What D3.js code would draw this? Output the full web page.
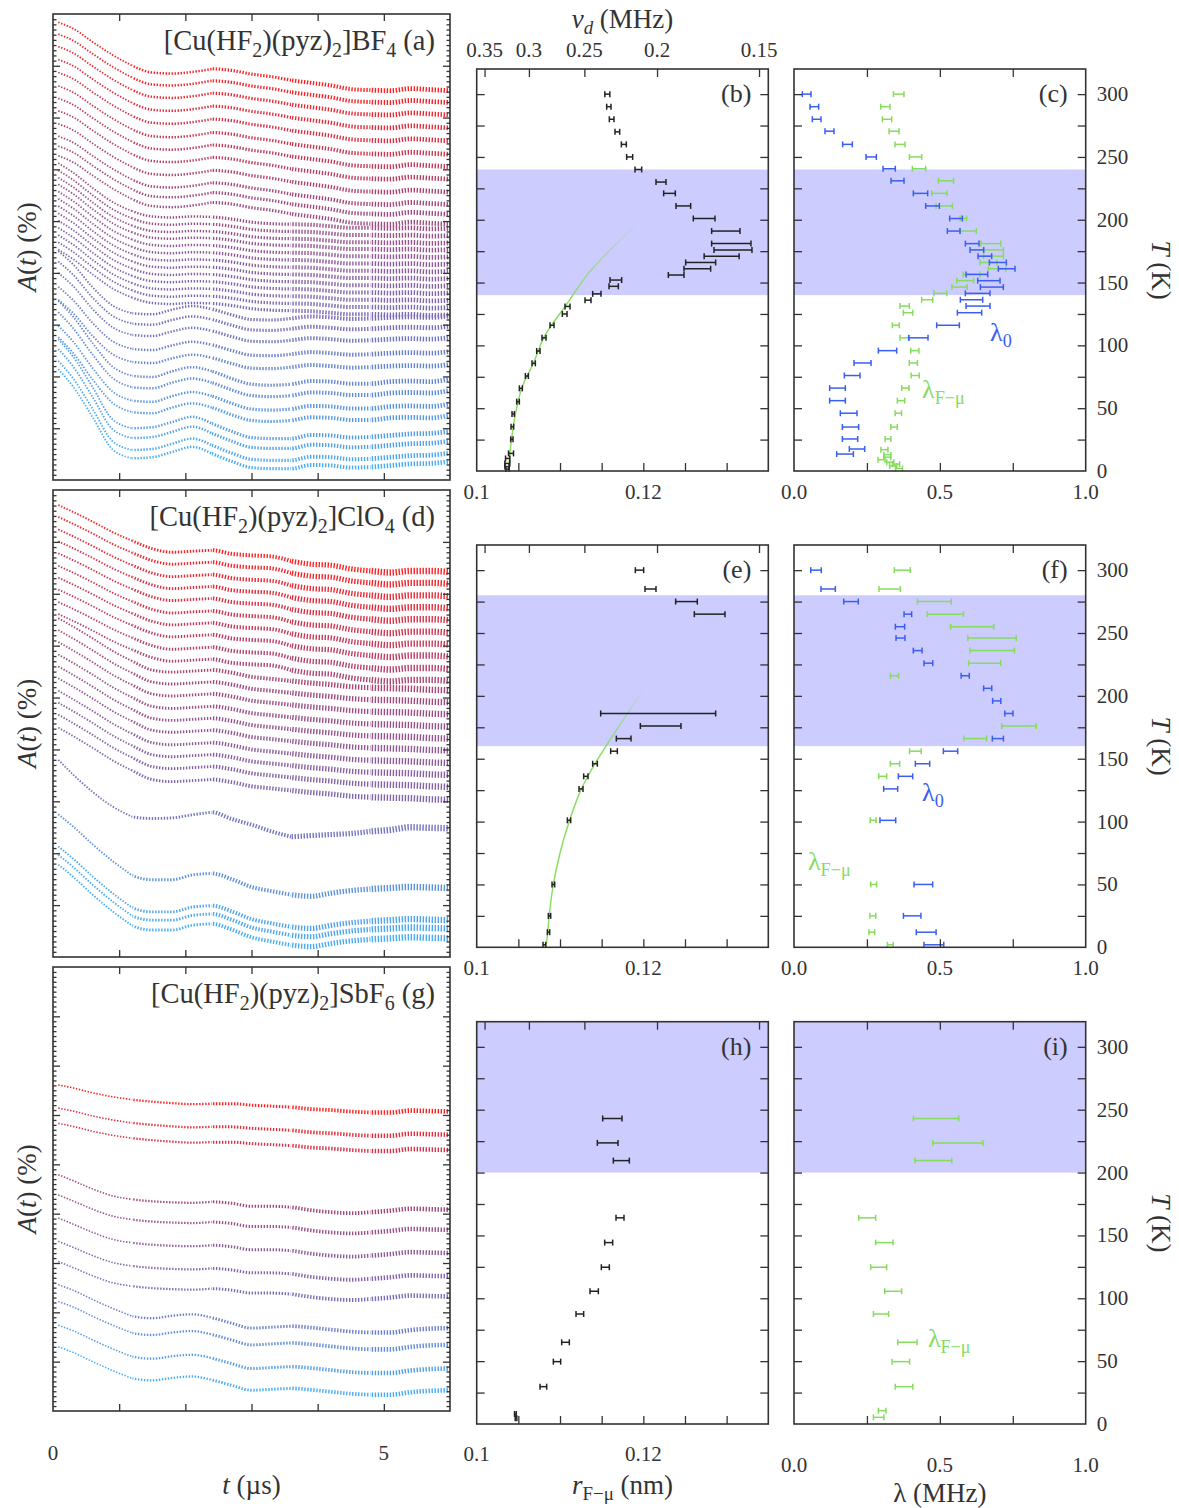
<!DOCTYPE html>
<html lang="en">
<head>
<meta charset="UTF-8">
<title>muSR spectra and fit parameters, Cu(HF2)(pyz)2X</title>
<script src="https://d3js.org/d3.v7.min.js"></script>
<style>
  body { margin: 0; background: #fff; }
  svg { display: block; font-family: "Liberation Serif", "DejaVu Serif", serif; }
  text { fill: #333; }
</style>
</head>
<body>
<svg width="1179" height="1508"></svg>
<script>
// ---------- asymmetry spectra: common time grid (µs)
const tGrid = [0.08, 0.3, 0.6, 0.9, 1.2, 1.5, 1.8, 2.1, 2.4, 2.7, 3.0, 3.3, 3.6, 3.9, 4.2, 4.5, 4.8, 5.1, 5.4, 5.7, 6.0];
// error bars grow with time: the curves are stroked in these time slices
const tSlices = [0, 1.2, 2.4, 3.6, 4.8, 6.0];

// (a) BF4 - change of A(t) from the first bin (%)
const shapeA_red   = [0, -1.2, -3.8, -6.3, -8.4, -9.7, -9.9, -9.6, -9.0, -9.3, -10.0, -10.5, -11.2, -11.7, -12.2, -12.9, -13.1, -13.2, -12.8, -13.0, -13.2];
const shapeA_mauve = [0, -1.8, -4.8, -7.5, -9.3, -10.3, -10.5, -10.3, -10.4, -10.8, -11.4, -11.7, -11.8, -11.9, -12.2, -12.5, -12.5, -12.6, -12.5, -12.7, -12.6];
const shapeA_bmid  = [0, -2.5, -7.0, -10.5, -12.0, -12.2, -11.3, -10.6, -11.2, -12.3, -13.2, -13.3, -13.0, -12.6, -12.8, -13.1, -13.0, -12.8, -12.7, -12.8, -12.5];
const shapeA_blow  = [0, -3.0, -8.2, -12.7, -14.5, -14.7, -13.6, -12.8, -13.6, -15.0, -16.1, -16.3, -16.1, -15.5, -15.6, -16.0, -16.0, -15.6, -15.5, -15.6, -15.1];
const shapeA_bbot  = [0, -3.3, -9.3, -15.5, -17.2, -17.0, -16.0, -15.0, -16.3, -17.8, -19.0, -19.2, -19.2, -18.5, -18.6, -19.0, -18.9, -18.6, -18.3, -18.2, -17.8];
const startA = [88.4, 86.1, 83.7, 81.2, 78.7, 76.1, 73.7, 71.3, 68.8, 66.4, 64.5, 62.6,
                61.2, 59.8, 58.4, 57.1, 55.7, 54.3, 52.9, 51.5, 50.1, 48.7, 47.3, 45.9, 44.5,
                44.2, 42.2, 40.0, 37.3, 34.8,
                34.6, 32.4, 29.8, 27.6,
                27.2, 25.3, 23.0, 21.4];
const kindA = [0,0,0,0,0,0,0,0,0,0,0,0, 1,1,1,1,1,1,1,1,1,1,1,1,1, 2,2,2,2,2, 3,3,3,3, 4,4,4,4];

// (d) ClO4
const shapeD_red   = [0, -1.3, -3.2, -5.2, -6.9, -8.4, -9.1, -8.9, -8.7, -9.4, -9.7, -9.9, -10.8, -11.4, -11.6, -12.3, -12.7, -13.0, -12.7, -12.7, -12.9];
const shapeD_mauve = [0, -1.6, -3.9, -6.3, -8.3, -10.0, -10.4, -10.2, -10.0, -10.5, -11.3, -11.7, -12.1, -12.5, -12.8, -13.2, -13.4, -13.5, -13.6, -13.8, -13.9];
const shapeD_purp  = [0, -2.8, -6.2, -9.0, -11.0, -11.3, -11.2, -10.6, -10.1, -11.4, -12.5, -13.8, -14.8, -14.6, -14.4, -14.2, -13.8, -13.5, -13.0, -13.1, -13.2];
const shapeD_blue  = [0, -2.3, -5.8, -9.0, -11.8, -12.6, -12.6, -11.7, -11.4, -12.5, -14.0, -14.8, -15.5, -15.8, -15.2, -14.7, -14.4, -14.2, -14.0, -14.1, -14.2];
const startD = [87.1, 84.8, 82.4, 80.1, 77.8, 75.4, 73.1, 70.8, 68.4, 66.1,
                65.3, 63.0, 60.7, 58.3, 56.0, 53.7, 51.3, 49.0, 46.7, 44.2,
                38.0, 27.5, 21.3, 19.7, 17.8];
const kindD = [0,0,0,0,0,0,0,0,0,0, 1,1,1,1,1,1,1,1,1,1, 2, 3,3,3,3];

// (g) SbF6
const shapeG_red  = [0, -0.6, -1.6, -2.4, -3.0, -3.4, -3.7, -3.9, -3.8, -3.8, -4.1, -4.3, -4.5, -4.9, -5.1, -5.4, -5.6, -5.6, -5.2, -5.3, -5.4];
const shapeG_mid  = [0, -1.2, -2.9, -4.3, -5.0, -5.4, -5.6, -5.7, -5.5, -5.8, -6.4, -6.4, -6.6, -7.2, -7.6, -7.8, -7.6, -7.3, -6.9, -7.0, -7.1];
const shapeG_blue = [0, -1.1, -3.0, -4.8, -6.4, -6.8, -6.3, -6.0, -6.7, -7.8, -8.8, -8.6, -8.4, -8.7, -9.1, -9.5, -9.7, -9.7, -9.2, -8.9, -8.8];
const startG = [66.1, 61.4, 58.3, 47.9, 43.8, 39.1, 34.4, 30.3, 25.6, 22.2, 17.4, 13.0];
const kindG = [0,0,0, 1,1,1,1,1, 2,2,2,2];

// ---------- (b) r_F-mu vs T, BF4
const bT   = [300,290,280,270,260,250,240,230,221,211,201,191,181,176,171,166,161,156,152,147,141,136,131,125,116,106,95.5,85.7,75.6,65.8,55.2,45.4,35.3,25.2,14,10,6,3.5,1.5];
const bR   = [0.11568,0.11586,0.1162,0.11688,0.11766,0.11836,0.1194,0.12212,0.12314,0.1248,0.1273,0.1299,0.13056,0.13076,0.1294,0.12688,0.12648,0.12394,0.1167,0.11644,0.11442,0.11336,0.1109,0.11056,0.10904,0.10808,0.1074,0.10684,0.10602,0.1053,0.10496,0.10438,0.10428,0.10422,0.10412,0.10372,0.10368,0.10364,0.1037];
const bErr = [0.0003,0.00026,0.00028,0.00028,0.0003,0.00036,0.0004,0.0006,0.0007,0.00088,0.0013,0.0017,0.00236,0.00228,0.0021,0.0018,0.0016,0.00094,0.0007,0.00056,0.0005,0.00036,0.0003,0.00028,0.00024,0.00024,0.0002,0.0002,0.00018,0.00018,0.00016,0.00014,0.00016,0.00014,0.0003,0.00026,0.0003,0.00026,0.0002];
const fitB_T = [0.8, 22, 40.6, 65.8, 85.7, 105.6, 116.2, 130.8, 157.3, 178.5, 199.7];
const fitB_R = [0.1038, 0.10412, 0.10452, 0.1054, 0.1068, 0.108, 0.109, 0.1106, 0.1134, 0.1164, 0.1196];
const bandB = [140, 240];

// (c) lambda vs T, BF4
const cT0 = [300,290,280,270.5,260,250,240.6,231,221,211,201,191,181,176,171,166,161,156.5,151.5,146.4,141.4,136.3,131.3,126,116,106,95.8,86,76,66,56,46,35,25.5,17.5,13.5];
const cL0 = [0.0434,0.0697,0.0777,0.1217,0.1834,0.2646,0.3263,0.3549,0.4337,0.4749,0.5554,0.5474,0.6109,0.6269,0.6543,0.6989,0.7291,0.6269,0.668,0.6783,0.6297,0.6086,0.6309,0.6017,0.528,0.4263,0.3206,0.2349,0.1994,0.1491,0.1491,0.1874,0.1937,0.192,0.216,0.1749];
const cE0 = [0.0149,0.0149,0.0149,0.0154,0.0166,0.0177,0.0211,0.0223,0.0246,0.0234,0.0217,0.0217,0.0234,0.0234,0.0234,0.0291,0.0286,0.0371,0.0383,0.0394,0.0423,0.0383,0.0411,0.0417,0.0389,0.0331,0.0314,0.0291,0.0269,0.0269,0.0269,0.0286,0.028,0.0263,0.0263,0.0286];
const cTF = [300,290,280,270.5,260,250,240.6,231,221,211,201,191,181,176,171,166,161,156.5,151.5,146.4,141.4,136.3,131.3,126,116,106,95.8,86,76,66,56,46,35,25.5,17,13,11,9,7,5.5,4,2];
const cLF = [0.3589,0.3131,0.3189,0.3429,0.3634,0.4166,0.4286,0.5211,0.4983,0.5149,0.5806,0.5971,0.6749,0.684,0.684,0.6663,0.696,0.6091,0.5869,0.5674,0.5017,0.4566,0.3794,0.3909,0.3491,0.3794,0.4143,0.4091,0.4154,0.3817,0.3669,0.3577,0.3429,0.3223,0.31,0.32,0.32,0.30,0.33,0.35,0.34,0.36];
const cEF = [0.018,0.016,0.016,0.017,0.017,0.021,0.023,0.026,0.026,0.028,0.011,0.028,0.034,0.034,0.034,0.029,0.03,0.029,0.029,0.026,0.022,0.019,0.016,0.016,0.012,0.016,0.014,0.014,0.014,0.0126,0.0126,0.011,0.011,0.01,0.012,0.012,0.012,0.012,0.012,0.012,0.012,0.012];

// (e) r_F-mu vs T, ClO4
const eT   = [300,285,275,265,186,176,166,156,146,136,126,101,50,25,12,2];
const eR   = [0.11954,0.12086,0.12518,0.12796,0.12178,0.12208,0.11764,0.11648,0.1142,0.1131,0.11252,0.11108,0.1092,0.10874,0.10862,0.10812];
const eErr = [0.0005,0.00066,0.0013,0.00184,0.0069,0.00244,0.00088,0.0004,0.00028,0.00026,0.00024,0.0002,0.00016,0.00014,0.00014,0.00016];
const fitE_T = [0, 10, 25, 50, 75, 100, 125, 145, 165, 185, 205];
const fitE_R = [0.1083, 0.1085, 0.1087, 0.1092, 0.1100, 0.1111, 0.1125, 0.1141, 0.1160, 0.1180, 0.1200];
const bandE = [160, 280];

// (f) lambda vs T, ClO4
const fT0 = [300,285,275,265,255,246,236,226,216,206,196,186,166,156,146,136,126,101,50,25,12,2];
const fL0 = [0.0754,0.1171,0.1954,0.3903,0.3634,0.3651,0.424,0.4606,0.5869,0.664,0.6949,0.7366,0.6989,0.5366,0.4406,0.3823,0.3314,0.3217,0.4434,0.4051,0.4531,0.4794];
const fE0 = [0.018,0.0246,0.025,0.013,0.016,0.0154,0.015,0.015,0.014,0.014,0.014,0.014,0.019,0.0246,0.0246,0.0246,0.024,0.027,0.032,0.03,0.034,0.034];
const fTF = [300,285,275,265,255,246,236,226,216,176,166,156,146,136,101,50,25,12,2];
const fLF = [0.3714,0.328,0.4811,0.5189,0.6109,0.6789,0.6794,0.6537,0.3446,0.7714,0.6211,0.416,0.3463,0.304,0.2714,0.2731,0.2703,0.2669,0.3303];
const fEF = [0.0274,0.0366,0.058,0.062,0.074,0.083,0.076,0.055,0.014,0.059,0.039,0.02,0.016,0.0137,0.01,0.01,0.01,0.01,0.01];

// (h) r_F-mu vs T, SbF6
const hT   = [243,223.6,209.5,164,144.3,124.7,105.6,87.5,65,49.6,29.7,8,4.5];
const hR   = [0.11628,0.11572,0.11736,0.1172,0.11584,0.11544,0.1141,0.11238,0.11066,0.10964,0.108,0.10464,0.10472];
const hErr = [0.00116,0.00124,0.00096,0.00048,0.00048,0.00048,0.0005,0.00046,0.00046,0.00044,0.0004,0.0001,0.0001];
const bandH = [200, 320];

// (i) lambda vs T, SbF6
const iT = [243,223.6,209.5,164,144.3,124.7,105.6,87.5,65,49.6,29.7,10.6,5.3];
const iL = [0.4869,0.5617,0.4777,0.2509,0.3097,0.2903,0.34,0.2983,0.3886,0.3663,0.3771,0.3023,0.2903];
const iE = [0.0777,0.086,0.063,0.029,0.0297,0.0274,0.029,0.026,0.033,0.03,0.03,0.013,0.018];

// axes
const rTicks = [0.105, 0.11, 0.115, 0.12, 0.125, 0.13];
const rLabels = [0.1, 0.12];
const nuLabels = [0.35, 0.3, 0.25, 0.2, 0.15];
const nuConst = 0.00036;          // nu_d * r^3 (MHz nm^3)
const tempTicks = d3.range(25, 320, 25);
const tempLabels = [0, 50, 100, 150, 200, 250, 300];
const lamTicks = [0.25, 0.5, 0.75];
const lamLabels = [0, 0.5, 1];

// ---------- layout
const svg = d3.select("svg");
const INK = "#333";
const GREEN = "#86dc5c";
const BLUE = "#3a5ef0";
const LEFT = [53, 450], MID = [476.7, 768.3], RIGHT = [794, 1085.7];
const leftRows = [[14, 480], [490, 957], [967, 1411]];
const sideRows = [[69, 471], [545, 947.3], [1021.7, 1424]];
const curveColor = d3.piecewise(d3.interpolateRgb, ["#ff2020", "#a3487a", "#7a6cb4", "#46acf8"]);

function ticks(g, axis, tx, ty) {
  g.append("g").attr("transform", `translate(${tx},${ty})`).attr("color", INK)
    .call(axis.tickFormat(""))
    .call(s => s.select(".domain").remove())
    .selectAll("line").attr("stroke-width", 1.3);
}

function frame(g, x0, x1, y0, y1) {
  g.append("rect").attr("x", x0).attr("y", y0).attr("width", x1 - x0).attr("height", y1 - y0)
    .attr("fill", "none").attr("stroke", INK).attr("stroke-width", 1.6);
}

// rich text: "_" subscript, "*" italic
function rich(g, x, y, parts, size, anchor, color, transform) {
  const t = g.append("text").attr("font-size", size).attr("text-anchor", anchor || "start");
  if (transform) t.attr("transform", transform); else t.attr("x", x).attr("y", y);
  if (color) t.style("fill", color);
  let shift = 0;
  parts.forEach(p => {
    let sub = false, ital = false;
    if (p[0] === "_") { sub = true; p = p.slice(1); }
    if (p[0] === "*") { ital = true; p = p.slice(1); }
    const d = sub ? size * 0.24 : 0;
    const s = t.append("tspan").attr("dy", d - shift).text(p);
    if (sub) s.attr("font-size", size * 0.7);
    if (ital) s.attr("font-style", "italic");
    shift = d;
  });
  return t;
}

function drawSpectra(row, starts, kinds, shapes, widths, title) {
  const [y0, y1] = leftRows[row];
  const x = d3.scaleLinear().domain([0, 6]).range(LEFT);
  const y = d3.scaleLinear().domain([0, 90]).range([y1, y0]);
  const g = svg.append("g");
  const line = d3.line().x(d => x(d[0])).y(d => y(d[1])).curve(d3.curveMonotoneX);
  const hi = d3.max(starts), lo = d3.min(starts);
  starts.forEach((s, i) => {
    const pts = tGrid.map((t, j) => [t, s + shapes[kinds[i]][j]]);
    const col = curveColor((hi - s) / (hi - lo));
    widths.forEach((w, k) => {
      const seg = pts.filter(p => p[0] >= tSlices[k] - 0.31 && p[0] <= tSlices[k + 1] + 0.01);
      const cut = g.append("clipPath").attr("id", `cl${row}_${i}_${k}`).append("rect")
        .attr("x", x(tSlices[k])).attr("width", x(tSlices[k + 1]) - x(tSlices[k]) + 0.01)
        .attr("y", y0).attr("height", y1 - y0);
      g.append("path").attr("d", line(seg)).attr("clip-path", `url(#cl${row}_${i}_${k})`)
        .attr("fill", "none").attr("stroke", col).attr("stroke-width", w)
        .attr("stroke-dasharray", "1.4 1.6");
    });
  });
  frame(g, LEFT[0], LEFT[1], y0, y1);
  const major = d3.range(10, 90, 10), minor = d3.range(1, 90, 1).filter(v => v % 10);
  ticks(g, d3.axisLeft(y).tickValues(major).tickSize(-7), LEFT[0], 0);
  ticks(g, d3.axisLeft(y).tickValues(minor).tickSize(-3.5), LEFT[0], 0);
  ticks(g, d3.axisRight(y).tickValues(major).tickSize(-7), LEFT[1], 0);
  ticks(g, d3.axisRight(y).tickValues(minor).tickSize(-3.5), LEFT[1], 0);
  ticks(g, d3.axisBottom(x).tickValues([1, 2, 3, 4, 5]).tickSize(-7), 0, y1);
  ticks(g, d3.axisTop(x).tickValues([1, 2, 3, 4, 5]).tickSize(-7), 0, y0);
  rich(g, 435, y0 + 36, title, 28.5, "end");
  rich(g, 0, 0, ["*A", "(", "*t", ") (%)"], 27, "middle", null, `translate(36,${(y0 + y1) / 2}) rotate(-90)`);
  return x;
}

function errorBars(g, x, y, T, V, E, color) {
  const bars = g.append("g").attr("stroke", color).attr("stroke-width", 1.5).attr("fill", "none");
  T.forEach((t, i) => {
    const yy = y(t), xa = x(V[i] - E[i]), xb = x(V[i] + E[i]);
    bars.append("line").attr("x1", xa).attr("x2", xb).attr("y1", yy).attr("y2", yy);
    bars.append("line").attr("x1", xa).attr("x2", xa).attr("y1", yy - 3).attr("y2", yy + 3);
    bars.append("line").attr("x1", xb).attr("x2", xb).attr("y1", yy - 3).attr("y2", yy + 3);
  });
}

function drawRadius(row, T, R, E, fitT, fitR, band, letter, labelGap) {
  const [y0, y1] = sideRows[row];
  const x = d3.scaleLinear().domain([0.1, 0.135]).range(MID);
  const y = d3.scaleLinear().domain([0, 320]).range([y1, y0]);
  const g = svg.append("g");
  g.append("rect").attr("x", MID[0]).attr("width", MID[1] - MID[0])
    .attr("y", y(Math.min(band[1], 320))).attr("height", y(band[0]) - y(Math.min(band[1], 320)))
    .attr("fill", "#ccccff");
  if (fitT) {
    const gid = "fade" + letter;
    const grad = svg.append("defs").append("linearGradient").attr("id", gid)
      .attr("gradientUnits", "userSpaceOnUse").attr("x1", 0).attr("x2", 0)
      .attr("y1", y(band[0])).attr("y2", y(d3.max(fitT) + 3));
    grad.append("stop").attr("offset", 0).attr("stop-color", GREEN).attr("stop-opacity", 1);
    grad.append("stop").attr("offset", 1).attr("stop-color", GREEN).attr("stop-opacity", 0);
    const fit = d3.line().x((d, i) => x(fitR[i])).y(d => y(d)).curve(d3.curveCatmullRom);
    g.append("path").attr("d", fit(fitT)).attr("fill", "none")
      .attr("stroke", `url(#${gid})`).attr("stroke-width", 1.4);
  }
  errorBars(g, x, y, T, R, E, "#222");
  frame(g, MID[0], MID[1], y0, y1);
  ticks(g, d3.axisLeft(y).tickValues(tempTicks).tickSize(-8), MID[0], 0);
  ticks(g, d3.axisRight(y).tickValues(tempTicks).tickSize(-8), MID[1], 0);
  ticks(g, d3.axisBottom(x).tickValues(rTicks).tickSize(-8), 0, y1);
  ticks(g, d3.axisTop(x).tickValues(nuLabels.map(v => Math.cbrt(nuConst / v))).tickSize(-8), 0, y0);
  g.append("text").attr("x", MID[1] - 17).attr("y", y0 + 33).attr("text-anchor", "end")
    .attr("font-size", 26).text(`(${letter})`);
  rLabels.forEach(v => g.append("text").attr("x", x(v)).attr("y", y1 + labelGap)
    .attr("text-anchor", "middle").attr("font-size", 21).text(v === 0.1 ? "0.1" : "0.12"));
  return { x, y };
}

function drawLambda(row, sets, band, letter, labelGap, tags) {
  const [y0, y1] = sideRows[row];
  const x = d3.scaleLinear().domain([0, 1]).range(RIGHT);
  const y = d3.scaleLinear().domain([0, 320]).range([y1, y0]);
  const g = svg.append("g");
  g.append("rect").attr("x", RIGHT[0]).attr("width", RIGHT[1] - RIGHT[0])
    .attr("y", y(Math.min(band[1], 320))).attr("height", y(band[0]) - y(Math.min(band[1], 320)))
    .attr("fill", "#ccccff");
  sets.forEach(s => errorBars(g, x, y, s[0], s[1], s[2], s[3]));
  frame(g, RIGHT[0], RIGHT[1], y0, y1);
  ticks(g, d3.axisLeft(y).tickValues(tempTicks).tickSize(-8), RIGHT[0], 0);
  ticks(g, d3.axisRight(y).tickValues(tempTicks).tickSize(-8), RIGHT[1], 0);
  ticks(g, d3.axisBottom(x).tickValues(lamTicks).tickSize(-8), 0, y1);
  ticks(g, d3.axisTop(x).tickValues(lamTicks).tickSize(-8), 0, y0);
  g.append("text").attr("x", RIGHT[1] - 18).attr("y", y0 + 33).attr("text-anchor", "end")
    .attr("font-size", 26).text(`(${letter})`);
  tempLabels.forEach(v => g.append("text").attr("x", RIGHT[1] + 11).attr("y", y(v) + 7)
    .attr("font-size", 21).text(v));
  lamLabels.forEach(v => g.append("text").attr("x", x(v)).attr("y", y1 + labelGap)
    .attr("text-anchor", "middle").attr("font-size", 21).text(d3.format(".1f")(v)));
  rich(g, 0, 0, ["*T", " (K)"], 27, "middle", null, `translate(1152,${(y0 + y1) / 2}) rotate(90)`);
  tags.forEach(tg => rich(g, x(tg[0]), y(tg[1]), tg[2], 26, "start", tg[3]));
}

// ---------- left column
const xt = drawSpectra(0, startA, kindA, [shapeA_red, shapeA_mauve, shapeA_bmid, shapeA_blow, shapeA_bbot], [1.8, 2.5, 3.2, 4.0, 4.8],
  ["[Cu(HF", "_2", ")(pyz)", "_2", "]BF", "_4", " (a)"]);
drawSpectra(1, startD, kindD, [shapeD_red, shapeD_mauve, shapeD_purp, shapeD_blue], [1.9, 2.9, 4.0, 5.2, 6.4],
  ["[Cu(HF", "_2", ")(pyz)", "_2", "]ClO", "_4", " (d)"]);
drawSpectra(2, startG, kindG, [shapeG_red, shapeG_mid, shapeG_blue], [1.6, 2.3, 3.0, 3.8, 4.6],
  ["[Cu(HF", "_2", ")(pyz)", "_2", "]SbF", "_6", " (g)"]);
[0, 5].forEach(v => svg.append("text").attr("x", xt(v)).attr("y", 1460)
  .attr("text-anchor", "middle").attr("font-size", 21).text(v));
rich(svg, (LEFT[0] + LEFT[1]) / 2, 1494, ["*t", " (µs)"], 27, "middle");

// ---------- middle column
const pb = drawRadius(0, bT, bR, bErr, fitB_T, fitB_R, bandB, "b", 28);
drawRadius(1, eT, eR, eErr, fitE_T, fitE_R, bandE, "e", 28);
drawRadius(2, hT, hR, hErr, null, null, bandH, "h", 37);
nuLabels.forEach(v => svg.append("text").attr("x", pb.x(Math.cbrt(nuConst / v))).attr("y", 57)
  .attr("text-anchor", "middle").attr("font-size", 21).text(v));
rich(svg, (MID[0] + MID[1]) / 2, 28, ["*ν", "_*d", " (MHz)"], 27, "middle");
rich(svg, (MID[0] + MID[1]) / 2, 1494, ["*r", "_F−μ", " (nm)"], 27, "middle");

// ---------- right column
drawLambda(0, [[cTF, cLF, cEF, GREEN], [cT0, cL0, cE0, BLUE]], bandB, "c", 28,
  [[0.672, 103.5, ["λ", "_0"], BLUE], [0.439, 58, ["λ", "_F−μ"], GREEN]]);
drawLambda(1, [[fTF, fLF, fEF, GREEN], [fT0, fL0, fE0, BLUE]], bandE, "f", 28,
  [[0.439, 116.4, ["λ", "_0"], BLUE], [0.048, 61.5, ["λ", "_F−μ"], GREEN]]);
drawLambda(2, [[iT, iL, iE, GREEN]], bandH, "i", 48,
  [[0.459, 61.3, ["λ", "_F−μ"], GREEN]]);
rich(svg, (RIGHT[0] + RIGHT[1]) / 2, 1502, ["λ (MHz)"], 27, "middle");
</script>
</body>
</html>
